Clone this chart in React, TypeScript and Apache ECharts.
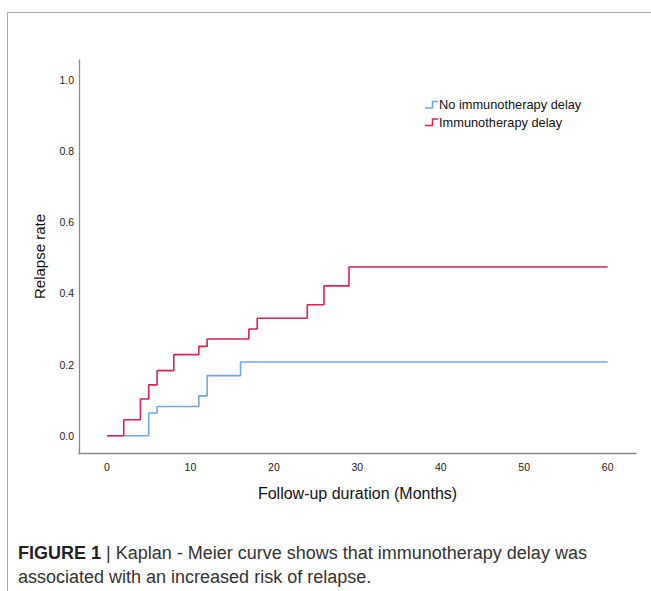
import React, { useEffect, useRef } from "react";
import * as echarts from "echarts";

const xTicks = [0, 10, 20, 30, 40, 50, 60];
const yTicks = [0, 0.2, 0.4, 0.6, 0.8, 1.0];

const noDelayTimes = [0, 5, 6, 11, 12, 16, 60];
const noDelayRates = [0, 0.064, 0.082, 0.112, 0.169, 0.207, 0.207];

const delayTimes = [0, 2, 4, 5, 6, 8, 11, 12, 17, 18, 24, 26, 29, 60];
const delayRates = [0, 0.045, 0.103, 0.143, 0.183, 0.228, 0.251, 0.272, 0.3, 0.33, 0.368, 0.421, 0.474, 0.474];

const seriesNames = ["No immunotherapy delay", "Immunotherapy delay"];
const seriesColors = ["#6fa7ea", "#dc2350"];

const captionBold = "FIGURE 1";
const captionLine1 = " | Kaplan - Meier curve shows that immunotherapy delay was";
const captionLine2 = "associated with an increased risk of relapse.";

export default function App() {
  const ref = useRef<HTMLDivElement>(null);
  useEffect(() => {
    document.body.style.margin = "0";
    if (!ref.current) return;
    const chart = echarts.init(ref.current, null, { renderer: "svg" });
    const pairs = (xs: number[], ys: number[]) => xs.map((x, i) => [x, ys[i]]);
    const legendItems = seriesNames.map((name, i) => {
      const cy = 104.5 + i * 17.5;
      return {
        type: "group",
        children: [
          {
            type: "polyline",
            shape: { points: [[425, cy + 3.5], [432.5, cy + 3.5], [432.5, cy - 3], [438, cy - 3]] },
            style: { stroke: seriesColors[i], lineWidth: 1.5, fill: null },
          },
          {
            type: "text",
            x: 439,
            y: cy,
            style: { text: name, fontSize: 12.8, fontFamily: "Liberation Sans", fill: "#111", verticalAlign: "middle" },
          },
        ],
      };
    });
    chart.setOption({
      animation: false,
      backgroundColor: "#ffffff",
      grid: { left: 79, top: 60, right: 15, bottom: 138, containLabel: false },
      xAxis: {
        type: "value",
        min: -3.36,
        max: 63.4,
        name: "Follow-up duration (Months)",
        nameLocation: "middle",
        nameGap: 32,
        nameTextStyle: { fontSize: 16, fontFamily: "Liberation Sans", color: "#111" },
        axisLine: { show: true, onZero: false, lineStyle: { color: "#8a8a8a", width: 1.3 } },
        axisTick: { show: false },
        splitLine: { show: false },
        axisLabel: {
          customValues: xTicks,
          fontSize: 10.5,
          fontFamily: "Liberation Sans",
          color: "#222",
          margin: 8,
        },
      },
      yAxis: {
        type: "value",
        min: -0.0486,
        max: 1.056,
        name: "Relapse rate",
        nameLocation: "middle",
        nameGap: 32,
        nameTextStyle: { fontSize: 15, fontFamily: "Liberation Sans", color: "#111" },
        axisLine: { show: true, onZero: false, lineStyle: { color: "#8a8a8a", width: 1.3 } },
        axisTick: { show: false },
        splitLine: { show: false },
        axisLabel: {
          customValues: yTicks,
          formatter: (v: number) => v.toFixed(1),
          fontSize: 10.5,
          fontFamily: "Liberation Sans",
          color: "#222",
          margin: 5,
        },
      },
      series: [
        {
          name: seriesNames[0],
          type: "line",
          step: "end",
          showSymbol: false,
          data: pairs(noDelayTimes, noDelayRates),
          lineStyle: { color: seriesColors[0], width: 1.6 },
          itemStyle: { color: seriesColors[0] },
          z: 2,
        },
        {
          name: seriesNames[1],
          type: "line",
          step: "end",
          showSymbol: false,
          data: pairs(delayTimes, delayRates),
          lineStyle: { color: seriesColors[1], width: 1.6 },
          itemStyle: { color: seriesColors[1] },
          z: 3,
        },
      ],
      graphic: [
        {
          type: "polyline",
          shape: { points: [[651, 12.5], [7.5, 12.5], [7.5, 591]] },
          style: { stroke: "#a8a8a8", lineWidth: 1, fill: null },
          silent: true,
        },
        ...legendItems,
        {
          type: "text",
          x: 18,
          y: 553,
          style: {
            text: `{b|${captionBold}}{n|${captionLine1}}`,
            verticalAlign: "middle",
            rich: {
              b: { fontSize: 18, fontWeight: "bold", fontFamily: "Liberation Sans", fill: "#222" },
              n: { fontSize: 18, fontFamily: "Liberation Sans", fill: "#333" },
            },
          },
        },
        {
          type: "text",
          x: 18,
          y: 577,
          style: {
            text: captionLine2,
            verticalAlign: "middle",
            fontSize: 18,
            fontFamily: "Liberation Sans",
            fill: "#333",
          },
        },
      ],
    });
    return () => chart.dispose();
  }, []);
  return <div ref={ref} style={{ width: 651, height: 591 }} />;
}
